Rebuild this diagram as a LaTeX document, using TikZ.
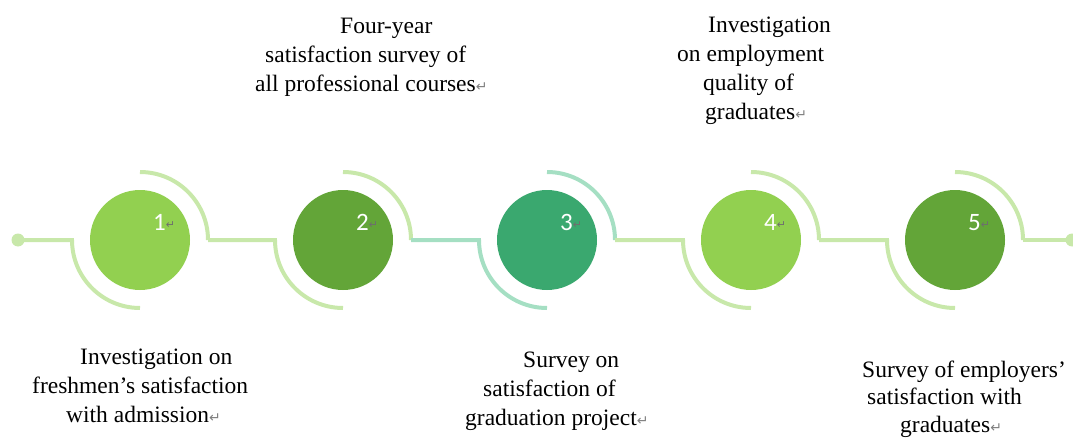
\documentclass[tikz,border=0pt]{standalone}
\usepackage{fontspec}
\setmainfont{Liberation Serif}
\newfontfamily\numfont{Carlito}
\newfontfamily\symfont{DejaVu Sans}
\definecolor{gA}{HTML}{92D050}
\definecolor{gB}{HTML}{63A538}
\definecolor{gC}{HTML}{3AA86F}
\definecolor{lA}{HTML}{C8E8AA}
\definecolor{lC}{HTML}{A5DFC3}
\definecolor{markgray}{HTML}{808080}
\definecolor{nmarkgray}{HTML}{6E6E6E}
\newcommand\pmark{{\symfont\fontsize{14}{14}\selectfont\textcolor{markgray}{↵}}}
\newcommand\nmark{\raisebox{2pt}{\symfont\fontsize{11}{11}\selectfont\textcolor{nmarkgray}{↵}}}
\tikzset{
  disc/.style={circle, fill=#1, minimum size=100pt, inner sep=0pt},
  ring/.style={draw=#1, line width=4pt},
  num/.style={font=\numfont\fontsize{25}{25}\selectfont, text=white, inner sep=0pt, anchor=base west},
  lab/.style={font=\fontsize{23.5}{29}\selectfont, align=left, inner sep=0pt, anchor=base west},
}
\begin{document}
\begin{tikzpicture}[x=1pt,y=1pt]
\useasboundingbox (0,0) rectangle (1073,-441);
% circles
\node[disc=gA] (c1) at (140,-240) {};
\node[disc=gB] (c2) at (343,-240) {};
\node[disc=gC] (c3) at (547,-240) {};
\node[disc=gA] (c4) at (751,-240) {};
\node[disc=gB] (c5) at (955,-240) {};
% end dots
\coordinate (dl) at (18,-240);
\coordinate (dr) at (1072,-240);
\fill[lA] (dl) circle (6.5);
\fill[lA] (dr) circle (6.5);
% rings and connectors
\foreach \i/\c in {1/lA,2/lA,3/lC,4/lA,5/lA}{
  \draw[ring=\c] ([shift={(90:68)}]c\i.center) arc[start angle=90,end angle=0,radius=68];
}
\draw[ring=lA] (dl) -- ([shift={(180:68)}]c1.center) arc[start angle=180,end angle=270,radius=68];
\draw[ring=lA] ([shift={(0:68)}]c1.center) -- ([shift={(180:68)}]c2.center) arc[start angle=180,end angle=270,radius=68];
\draw[ring=lC] ([shift={(0:68)}]c2.center) -- ([shift={(180:68)}]c3.center) arc[start angle=180,end angle=270,radius=68];
\draw[ring=lA] ([shift={(0:68)}]c3.center) -- ([shift={(180:68)}]c4.center) arc[start angle=180,end angle=270,radius=68];
\draw[ring=lA] ([shift={(0:68)}]c4.center) -- ([shift={(180:68)}]c5.center) arc[start angle=180,end angle=270,radius=68];
\draw[ring=lA] ([shift={(0:68)}]c5.center) -- (dr);
% numbers
\node[num] (n1) at (153,-230) {1\nmark};
\node[num] (n2) at (356,-230) {2\nmark};
\node[num] (n3) at (560,-230) {3\nmark};
\node[num] (n4) at (764,-230) {4\nmark};
\node[num] (n5) at (968,-230) {5\nmark};
% labels (anchored at the baseline of the last line)
\node[lab] (t1) at (32,-422) {\hspace*{48pt}Investigation on\\freshmen's satisfaction\\\hspace*{34pt}with admission\pmark};
\node[lab] (t2) at (255,-92) {\hspace*{85pt}Four-year\\\hspace*{10pt}satisfaction survey of\\all professional courses\pmark};
\node[lab] (t3) at (465,-425) {\hspace*{58pt}Survey on\\\hspace*{18pt}satisfaction of\\graduation project\pmark};
\node[lab] (t4) at (677,-120) {\hspace*{31pt}Investigation\\on employment\\\hspace*{26pt}quality of\\\hspace*{28pt}graduates\pmark};
\node[lab, font=\fontsize{23.5}{27.5}\selectfont] (t5) at (862,-432) {Survey of employers'\\\hspace*{5pt}satisfaction with\\\hspace*{38pt}graduates\pmark};
\end{tikzpicture}
\end{document}
